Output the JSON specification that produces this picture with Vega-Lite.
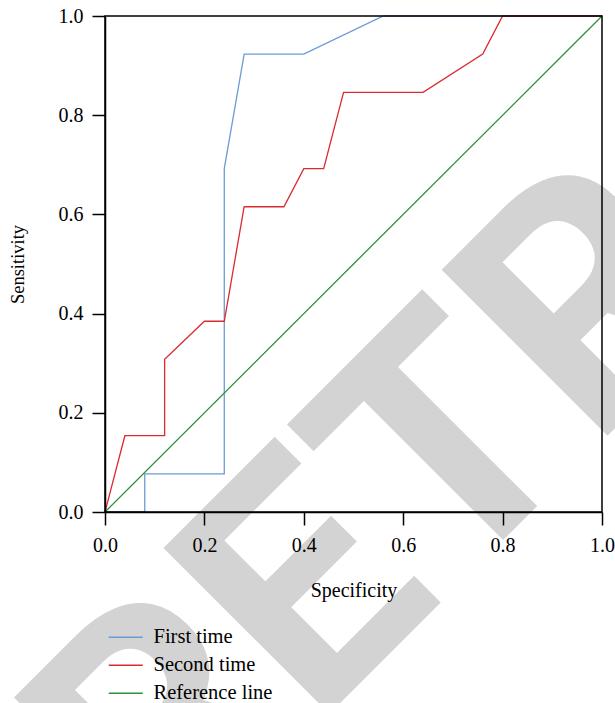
{
  "$schema": "https://vega.github.io/schema/vega-lite/v6.json",
  "width": 497,
  "height": 496,
  "autosize": {"type": "none"},
  "padding": {"left": 105, "top": 16, "right": 13, "bottom": 191},
  "background": "white",
  "config": {
    "view": {"stroke": null},
    "font": "Liberation Serif",
    "axis": {
      "domainColor": "black",
      "domainWidth": 1.5,
      "tickColor": "black",
      "tickWidth": 1.5,
      "tickSize": 13,
      "grid": false,
      "labelFlush": false,
      "labelFont": "Liberation Serif",
      "labelFontSize": 20,
      "labelColor": "black",
      "titleFont": "Liberation Serif",
      "titleFontWeight": "normal",
      "titleColor": "black"
    }
  },
  "layer": [
    {
      "data": {"values": [{}]},
      "mark": {
        "type": "text",
        "text": "RETRACTED",
        "angle": 315,
        "align": "left",
        "baseline": "alphabetic",
        "font": "Roboto",
        "fontWeight": "bold",
        "fontSize": 330,
        "color": "#d3d3d3"
      },
      "encoding": {
        "x": {"datum": 0.121, "type": "quantitative", "scale": {"domain": [0, 1]}},
        "y": {"datum": -0.738, "type": "quantitative", "scale": {"domain": [0, 1]}}
      }
    },
    {
      "data": {
        "values": [
          {"series": "First time", "i": 0, "spec": 0, "sens": 0},
          {"series": "First time", "i": 1, "spec": 0.08, "sens": 0},
          {"series": "First time", "i": 2, "spec": 0.08, "sens": 0.0769},
          {"series": "First time", "i": 3, "spec": 0.24, "sens": 0.0769},
          {"series": "First time", "i": 4, "spec": 0.24, "sens": 0.6923},
          {"series": "First time", "i": 5, "spec": 0.28, "sens": 0.9231},
          {"series": "First time", "i": 6, "spec": 0.40, "sens": 0.9231},
          {"series": "First time", "i": 7, "spec": 0.56, "sens": 1},
          {"series": "First time", "i": 8, "spec": 1, "sens": 1},
          {"series": "Second time", "i": 0, "spec": 0, "sens": 0},
          {"series": "Second time", "i": 1, "spec": 0.04, "sens": 0.1538},
          {"series": "Second time", "i": 2, "spec": 0.12, "sens": 0.1538},
          {"series": "Second time", "i": 3, "spec": 0.12, "sens": 0.3077},
          {"series": "Second time", "i": 4, "spec": 0.20, "sens": 0.3846},
          {"series": "Second time", "i": 5, "spec": 0.24, "sens": 0.3846},
          {"series": "Second time", "i": 6, "spec": 0.28, "sens": 0.6154},
          {"series": "Second time", "i": 7, "spec": 0.36, "sens": 0.6154},
          {"series": "Second time", "i": 8, "spec": 0.40, "sens": 0.6923},
          {"series": "Second time", "i": 9, "spec": 0.44, "sens": 0.6923},
          {"series": "Second time", "i": 10, "spec": 0.48, "sens": 0.8462},
          {"series": "Second time", "i": 11, "spec": 0.64, "sens": 0.8462},
          {"series": "Second time", "i": 12, "spec": 0.76, "sens": 0.9231},
          {"series": "Second time", "i": 13, "spec": 0.80, "sens": 1},
          {"series": "Second time", "i": 14, "spec": 1, "sens": 1},
          {"series": "Reference line", "i": 0, "spec": 0, "sens": 0},
          {"series": "Reference line", "i": 1, "spec": 1, "sens": 1}
        ]
      },
      "mark": {"type": "line", "strokeWidth": 1.3},
      "encoding": {
        "x": {
          "field": "spec",
          "type": "quantitative",
          "scale": {"domain": [0, 1]},
          "axis": {
            "title": "Specificity",
            "zindex": 1,
            "values": [0, 0.2, 0.4, 0.6, 0.8, 1],
            "format": ".1f",
            "labelPadding": 10,
            "titleFontSize": 20,
            "titlePadding": 25
          }
        },
        "y": {
          "field": "sens",
          "type": "quantitative",
          "scale": {"domain": [0, 1]},
          "axis": {
            "title": "Sensitivity",
            "zindex": 1,
            "values": [0, 0.2, 0.4, 0.6, 0.8, 1],
            "format": ".1f",
            "labelPadding": 9,
            "titleFontSize": 18.5,
            "titlePadding": 31
          }
        },
        "order": {"field": "i", "type": "quantitative"},
        "color": {
          "field": "series",
          "type": "nominal",
          "scale": {
            "domain": ["First time", "Second time", "Reference line"],
            "range": ["#6b9bd6", "#dc2a30", "#2f8f3a"]
          },
          "legend": {
            "orient": "none",
            "legendX": 10.5,
            "legendY": 611,
            "title": null,
            "padding": 0,
            "symbolType": "M-2,0L2,0",
            "symbolSize": 289,
            "symbolStrokeWidth": 1.3,
            "labelFont": "Liberation Serif",
            "labelFontSize": 20.5,
            "labelColor": "black",
            "labelOffset": 17.5,
            "rowPadding": 7
          }
        }
      }
    },
    {
      "data": {"values": [{}]},
      "mark": {"type": "rect", "fill": null, "fillOpacity": 0, "stroke": "black", "strokeWidth": 1.5},
      "encoding": {
        "x": {"datum": 0, "type": "quantitative"},
        "x2": {"datum": 1},
        "y": {"datum": 0, "type": "quantitative"},
        "y2": {"datum": 1}
      }
    }
  ]
}
